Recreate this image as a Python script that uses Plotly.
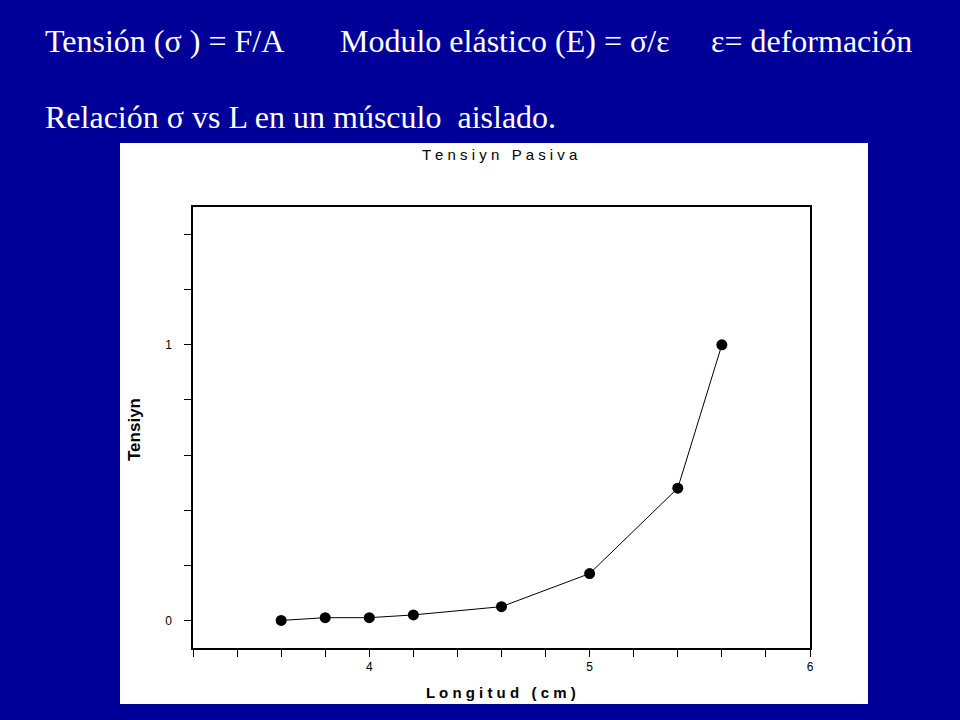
import plotly.graph_objects as go

# longitud (cm) vs tension pasiva
longitud = [3.6, 3.8, 4.0, 4.2, 4.6, 5.0, 5.4, 5.6]
tension = [0.0, 0.01, 0.01, 0.02, 0.05, 0.17, 0.48, 1.0]

x_ticks = [4, 5, 6]
y_ticks = [0, 1]

W, H = 960, 720
pw, ph = 617, 441
L, T = 193, 207
R, B = W - L - pw, H - T - ph


def px(x):
    return (x - L) / pw


def py(y):
    return (T + ph - y) / ph


fig = go.Figure()
fig.add_trace(go.Scatter(
    x=longitud, y=tension, mode='lines+markers',
    line=dict(color='black', width=1),
    marker=dict(color='black', size=11),
    showlegend=False))

sans = 'Liberation Sans, Arial'
axis_font = dict(family=sans, size=12, color='black')

fig.update_xaxes(
    range=[3.2, 6], tickvals=x_ticks, ticks='outside', ticklen=7,
    tickcolor='black', linecolor='black', linewidth=1.5, mirror=True,
    showgrid=False, zeroline=False, tickfont=axis_font, ticklabelstandoff=0,
    minor=dict(dtick=0.2, ticks='outside', ticklen=7, tickcolor='black', showgrid=False))
fig.update_yaxes(
    range=[-0.1, 1.5], tickvals=y_ticks, ticks='outside', ticklen=7,
    tickcolor='black', linecolor='black', linewidth=1.5, mirror=True,
    showgrid=False, zeroline=False, tickfont=axis_font, ticklabelstandoff=10,
    minor=dict(dtick=0.2, ticks='outside', ticklen=7, tickcolor='black', showgrid=False))

# panel blanco del grafico
fig.add_shape(type='rect', xref='paper', yref='paper',
              x0=px(120), x1=px(868), y0=py(704), y1=py(143),
              fillcolor='white', line=dict(width=0), layer='below')

fig.add_annotation(text='T e n s i y n   P a s i v a', xref='paper', yref='paper',
                   x=px(500), y=py(155), xanchor='center', yanchor='middle', showarrow=False,
                   font=dict(family=sans, size=15, color='black'))
fig.add_annotation(text='<b>L o n g i t u d   ( c m )</b>', xref='paper', yref='paper',
                   x=px(501), y=py(692), xanchor='center', yanchor='middle', showarrow=False,
                   font=dict(family=sans, size=15, color='black'))
fig.add_annotation(text='<b>Tensiyn</b>', xref='paper', yref='paper', textangle=-90,
                   x=px(134), y=py(430), xanchor='center', yanchor='middle', showarrow=False,
                   font=dict(family=sans, size=17, color='black'))

serif = dict(family='Liberation Serif, Times New Roman', size=32, color='white')
for txt, x, y in [
    ('Tensión (σ ) = F/A', 43, 41),
    ('Modulo elástico (E) = σ/ε', 338, 41),
    ('ε= deformación', 709, 41),
    ('Relación σ vs L en un músculo  aislado.', 43, 117),
]:
    fig.add_annotation(text=txt, xref='paper', yref='paper', x=px(x), y=py(y),
                       xanchor='left', yanchor='middle', showarrow=False, font=serif)

fig.update_layout(
    width=W, height=H, margin=dict(l=L, r=R, t=T, b=B),
    paper_bgcolor='#000099', plot_bgcolor='white')

# sin margen del body, para que la figura llene la ventana
fig.write_html('out.html', config={'displayModeBar': False},
               post_script="document.body.style.margin='0';"
                           "document.body.style.background='#000099';")
